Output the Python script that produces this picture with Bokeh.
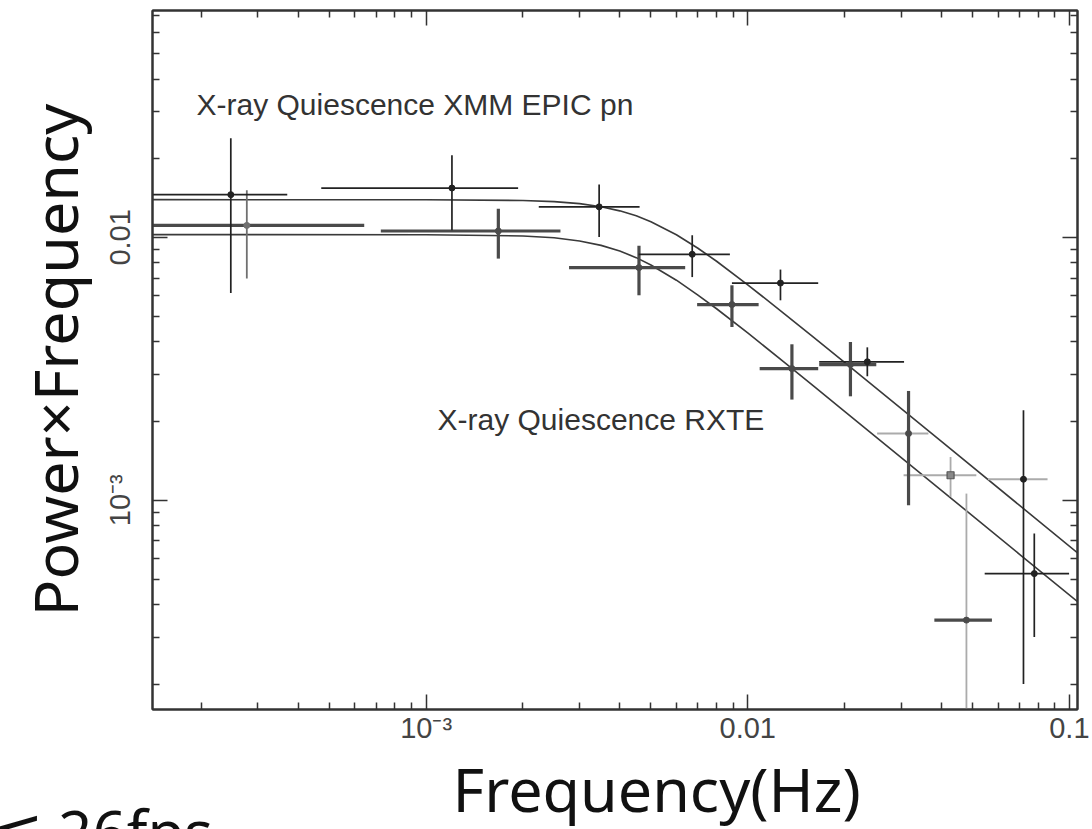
import numpy as np
from bokeh.plotting import figure
from bokeh.models import ColumnDataSource, LogAxis, FixedTicker, Label, Range1d, Title
from bokeh.embed import file_html
from bokeh.resources import INLINE

# ---------------- data ----------------
freq = [2.47e-4, 2.77e-4, 1.203e-3, 1.677e-3, 3.451e-3, 4.59e-3, 6.72e-3, 8.93e-3,
        1.264e-2, 1.372e-2, 2.086e-2, 2.354e-2, 3.162e-2, 4.272e-2, 7.20e-2, 7.78e-2, 4.786e-2]
pf = [0.01453, 0.01110, 0.01540, 0.01057, 0.01306, 0.00767, 0.00862, 0.00555,
      0.00670, 0.003167, 0.003281, 0.003362, 0.001794, 0.001245, 0.001202, 5.26e-4, 3.50e-4]
freq_lo = [1.3e-4, 1.3e-4, 4.72e-4, 7.23e-4, 2.24e-3, 2.782e-3, 4.58e-3, 6.96e-3,
           8.93e-3, 1.089e-2, 1.668e-2, 1.668e-2, 2.525e-2, 3.052e-2, 5.583e-2, 5.454e-2, 3.804e-2]
freq_hi = [3.70e-4, 6.42e-4, 1.932e-3, 2.616e-3, 4.61e-3, 6.39e-3, 8.80e-3, 1.081e-2,
           1.656e-2, 1.656e-2, 2.510e-2, 3.062e-2, 3.645e-2, 5.137e-2, 8.554e-2, 9.98e-2, 5.744e-2]
pf_lo = [0.00614, 0.00697, 0.01063, 0.00830, 0.01003, 0.00602, 0.00706, 0.00456,
         0.00576, 0.002415, 0.002485, 0.002962, 9.57e-4, 1.029e-3, 2.0e-4, 3.02e-4, 1.4e-4]
pf_hi = [0.02379, 0.01509, 0.02050, 0.01285, 0.01590, 0.00928, 0.01018, 0.00657,
         0.00754, 0.003919, 0.003998, 0.003816, 0.002604, 0.001461, 0.002199, 7.47e-4, 1.060e-3]
hbar_set = ["pn", "rxte", "pn", "rxte", "pn", "rxte", "pn", "rxte", "pn", "rxte",
            "rxte", "pn", "faint", "faint", "faint", "pn", "rxte"]
vbar_set = ["pn", "mid", "pn", "rxte", "pn", "rxte", "pn", "rxte", "pn", "rxte",
            "rxte", "pn", "rxte", "faint", "pn", "pn", "faint"]

model_freq = [1.4e-4, 1e-3, 2e-3, 2.5e-3, 3e-3, 3.5e-3, 4e-3, 4.5e-3, 5e-3, 6e-3, 7e-3,
              8e-3, 0.01, 0.013, 0.016, 0.02, 0.04, 0.07, 0.11]
xmm_model = [0.01391, 0.01390, 0.01381, 0.01367, 0.01343, 0.01308, 0.01261, 0.01207,
             0.01146, 0.01023, 0.00909, 0.00811, 0.00660, 0.00512, 0.004173, 0.003343,
             0.001673, 0.000956, 0.000608]
rxte_model = [0.01024, 0.01023, 0.01012, 0.00996, 0.00969, 0.00932, 0.00887, 0.00837,
              0.00785, 0.00687, 0.00603, 0.00535, 0.00433, 0.003346, 0.002723, 0.00218,
              0.001091, 0.000623, 0.000397]

x_ticks = [1e-3, 1e-2, 1e-1]
x_tick_labels = ["10⁻³", "0.01", "0.1"]
y_ticks = [1e-3, 1e-2]
y_tick_labels = ["10⁻³", "0.01"]

label_xmm = "X-ray Quiescence XMM EPIC pn"
label_rxte = "X-ray Quiescence RXTE"
x_title = "Frequency(Hz)"
y_title = "Power×Frequency"
corner_text = "≦ 26fps"

# ---------------- layout ----------------
W, H = 1092, 829
FL, FR, FT, FB = 152, 1077, 10, 709
XR = (1.41e-4, 0.106)
YR = (1.60e-4, 0.0729)


def px_x(px):
    a, b = np.log10(XR)
    return float(10 ** (a + (px - FL) / (FR - FL) * (b - a)))


def px_y(py):
    a, b = np.log10(YR)
    return float(10 ** (a + (FB - py) / (FB - FT) * (b - a)))


p = figure(width=W, height=H, x_axis_type="log", y_axis_type="log",
           x_range=Range1d(*XR), y_range=Range1d(*YR),
           output_backend="svg", toolbar_location=None,
           min_border_left=FL, min_border_right=W - FR,
           min_border_top=FT, min_border_bottom=H - FB)
p.grid.visible = False
p.background_fill_color = "white"
p.border_fill_color = "white"
p.outline_line_color = "#333333"
p.outline_line_width = 2

x_minor = [k * 10.0 ** e for e in (-4, -3, -2) for k in range(2, 10)]
y_minor = [k * 10.0 ** e for e in (-4, -3, -2) for k in range(2, 10)]


def style_axis(ax, ticks, minor, labels, standoff=6):
    ax.ticker = FixedTicker(ticks=ticks, minor_ticks=minor)
    ax.axis_line_color = "#333333"
    ax.axis_line_width = 2
    ax.major_tick_line_color = "#333333"
    ax.minor_tick_line_color = "#333333"
    ax.major_tick_line_width = 1.5
    ax.minor_tick_line_width = 1.5
    ax.major_tick_in = 15
    ax.major_tick_out = 0
    ax.minor_tick_in = 7
    ax.minor_tick_out = 0
    if labels is None:
        ax.major_label_text_font_size = "2px"
        ax.major_label_text_alpha = 0.0
        ax.major_label_standoff = 0
    else:
        ax.major_label_overrides = {t: l for t, l in zip(ticks, labels)}
        ax.major_label_text_font = "Liberation Sans"
        ax.major_label_text_font_size = "29px"
        ax.major_label_text_color = "#444444"
        ax.major_label_standoff = standoff


style_axis(p.xaxis[0], x_ticks, x_minor, x_tick_labels, standoff=2)
style_axis(p.yaxis[0], y_ticks, y_minor, y_tick_labels, standoff=16)
p.yaxis[0].major_label_orientation = "vertical"

# y title as the axis label
p.yaxis[0].axis_label = y_title
p.yaxis[0].axis_label_text_font = "Noto Sans"
p.yaxis[0].axis_label_text_font_size = "61px"
p.yaxis[0].axis_label_text_font_style = "normal"
p.yaxis[0].axis_label_text_color = "#111111"
p.yaxis[0].axis_label_standoff = 6

top_ax = LogAxis()
style_axis(top_ax, x_ticks, x_minor, None)
p.add_layout(top_ax, "above")
right_ax = LogAxis()
style_axis(right_ax, y_ticks, y_minor, None)
p.add_layout(right_ax, "right")

# x title as a title below the axis, starting where the reference's does
p.add_layout(Title(text=x_title, align="left", offset=452 - FL, standoff=-3,
                   text_font="Noto Sans", text_font_size="61px",
                   text_font_style="normal", text_color="#111111"), "below")

# corner caption at the bottom-left edge of the page (cut by the page edge,
# as in the reference); its panel takes no room
p.add_layout(Title(text=corner_text, align="left", offset=-FL - 8, standoff=-86,
                   vertical_align="bottom",
                   text_font="Noto Sans", text_font_size="60px",
                   text_font_style="normal", text_color="#111111"), "below")

# ---------------- model curves ----------------
p.line(model_freq, xmm_model, line_color="#3a3a3a", line_width=1.6)
p.line(model_freq, rxte_model, line_color="#3a3a3a", line_width=1.6)

# ---------------- error bars ----------------
styles = {
    "faint": dict(color="#ababab", width=1.8),
    "mid": dict(color="#707070", width=1.8),
    "rxte": dict(color="#4a4a4a", width=3.2),
    "pn": dict(color="#222222", width=1.7),
}
for s in ["faint", "mid", "rxte", "pn"]:
    hi = [i for i, v in enumerate(hbar_set) if v == s]
    if hi:
        src = ColumnDataSource(dict(
            x0=[freq_lo[i] for i in hi], x1=[freq_hi[i] for i in hi],
            y=[pf[i] for i in hi]))
        p.segment(x0="x0", y0="y", x1="x1", y1="y", source=src,
                  line_color=styles[s]["color"], line_width=styles[s]["width"])
    vi = [i for i, v in enumerate(vbar_set) if v == s]
    if vi:
        src = ColumnDataSource(dict(
            x=[freq[i] for i in vi], y0=[pf_lo[i] for i in vi],
            y1=[pf_hi[i] for i in vi]))
        p.segment(x0="x", y0="y0", x1="x", y1="y1", source=src,
                  line_color=styles[s]["color"], line_width=styles[s]["width"])

# centre markers
for s in ["faint", "mid", "rxte", "pn"]:
    idx = [i for i in range(len(freq))
           if (vbar_set[i] if vbar_set[i] != "faint" else hbar_set[i]) == s]
    if not idx:
        continue
    src = ColumnDataSource(dict(x=[freq[i] for i in idx], y=[pf[i] for i in idx]))
    if s == "faint":
        p.scatter("x", "y", source=src, marker="square", size=7,
                  fill_color="#888888", line_color="#555555", line_width=1.2)
    else:
        p.scatter("x", "y", source=src, marker="circle", size=6,
                  fill_color=styles[s]["color"], line_color=styles[s]["color"])

# ---------------- texts in the plot ----------------
p.add_layout(Label(x=px_x(196), y=px_y(104), text=label_xmm,
                   text_font="Liberation Sans", text_font_size="30px",
                   text_color="#333333", text_align="left", text_baseline="middle"))
p.add_layout(Label(x=px_x(437), y=px_y(419), text=label_rxte,
                   text_font="Liberation Sans", text_font_size="30px",
                   text_color="#333333", text_align="left", text_baseline="middle"))

open("out.html", "w").write(file_html(p, INLINE))
